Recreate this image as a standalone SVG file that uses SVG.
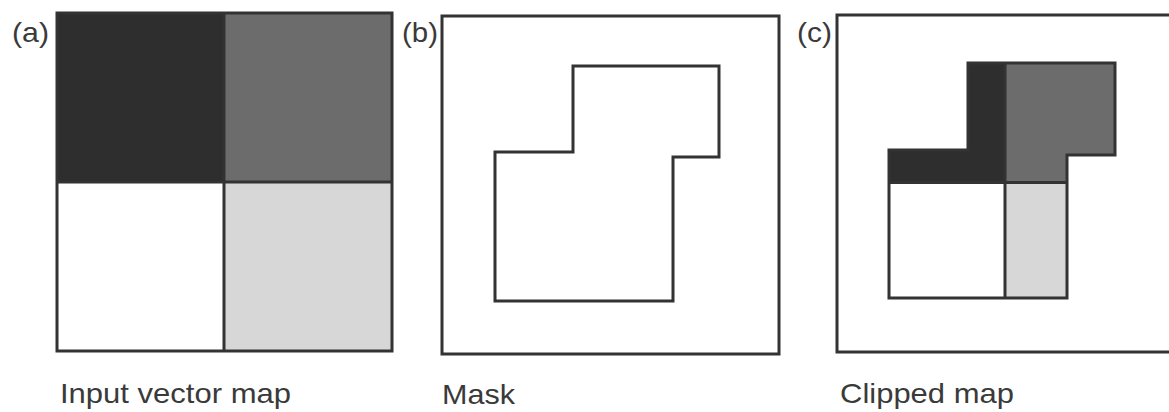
<svg xmlns="http://www.w3.org/2000/svg" width="1169" height="412" viewBox="0 0 1169 412">
  <style>
    .edge { fill: none; stroke: #333; stroke-width: 3; stroke-linejoin: miter; }
    .dark { fill: #2e2e2e; }
    .mid { fill: #6c6c6c; }
    .light { fill: #d7d7d7; }
    .white { fill: #ffffff; }
    .lbl { font-family: "Liberation Sans", Arial, sans-serif; font-size: 28px; fill: #3a3a3a; }
  </style>
  <rect width="1169" height="412" fill="#ffffff"/>

  <!-- (a) input vector map: four quadrant polygons -->
  <g id="panel-a">
    <rect class="dark" x="57" y="13" width="167" height="169"/>
    <rect class="mid" x="224" y="13" width="168" height="169"/>
    <rect class="white" x="57" y="182" width="167" height="169"/>
    <rect class="light" x="224" y="182" width="168" height="169"/>
    <rect class="edge" x="57" y="13" width="335" height="338"/>
    <line class="edge" x1="224" y1="13" x2="224" y2="351"/>
    <line class="edge" x1="57" y1="182" x2="392" y2="182"/>
    <text class="lbl" x="12" y="42" textLength="37" lengthAdjust="spacingAndGlyphs">(a)</text>
    <text class="lbl" x="60" y="403" textLength="231" lengthAdjust="spacingAndGlyphs">Input vector map</text>
  </g>

  <!-- (b) clipping mask -->
  <g id="panel-b">
    <rect class="edge" x="442" y="16" width="337" height="338"/>
    <polygon class="edge" points="495,152 573,152 573,66 719,66 719,157 673,157 673,301 495,301"/>
    <text class="lbl" x="402" y="42" textLength="36" lengthAdjust="spacingAndGlyphs">(b)</text>
    <text class="lbl" x="442" y="404" textLength="73" lengthAdjust="spacingAndGlyphs">Mask</text>
  </g>

  <!-- (c) result of clipping the map with the mask -->
  <g id="panel-c">
    <rect class="edge" x="837" y="15" width="340" height="337"/>
    <polygon class="dark" points="889,150 968,150 968,63 1005,63 1005,182.5 889,182.5"/>
    <polygon class="mid" points="1005,63 1115,63 1115,155 1067,155 1067,182.5 1005,182.5"/>
    <rect class="white" x="889" y="182.5" width="116" height="115.5"/>
    <rect class="light" x="1005" y="182.5" width="62" height="115.5"/>
    <polygon class="edge" points="889,150 968,150 968,63 1115,63 1115,155 1067,155 1067,298 889,298"/>
    <line class="edge" x1="1005" y1="63" x2="1005" y2="298"/>
    <line class="edge" x1="889" y1="182.5" x2="1067" y2="182.5"/>
    <text class="lbl" x="797" y="42" textLength="35" lengthAdjust="spacingAndGlyphs">(c)</text>
    <text class="lbl" x="840" y="403" textLength="174" lengthAdjust="spacingAndGlyphs">Clipped map</text>
  </g>
</svg>
